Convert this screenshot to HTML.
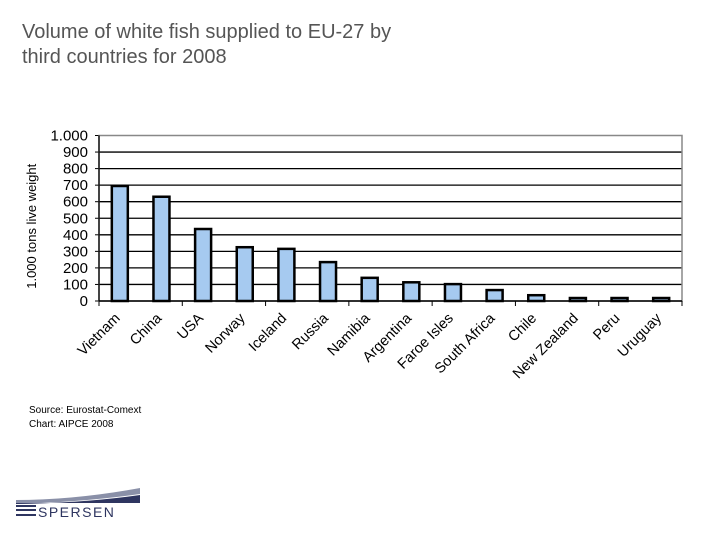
<!DOCTYPE html>
<html><head><meta charset="utf-8"><style>
body{margin:0;background:#fff;width:720px;height:540px;overflow:hidden;font-family:"Liberation Sans",sans-serif}
#title{position:absolute;left:22px;top:20px;font-size:20px;color:#555;line-height:25px}
</style></head><body>
<div id="title">Volume of white fish supplied to EU-27 by<br>third countries for 2008</div>
<svg id="chart" width="720" height="540" style="position:absolute;left:0;top:0"></svg>
<script>
const categories=["Vietnam","China","USA","Norway","Iceland","Russia","Namibia","Argentina","Faroe Isles","South Africa","Chile","New Zealand","Peru","Uruguay"];
const values=[695,630,435,325,315,235,140,113,102,66,35,18,18,18];
const yTicks=[0,100,200,300,400,500,600,700,800,900,1000];
const yTickLabels=["0","100","200","300","400","500","600","700","800","900","1.000"];
const svg=document.getElementById('chart');const NS='http://www.w3.org/2000/svg';
const L=99,R=682,T=135.5,B=301,yMax=1000;
const band=(R-L)/categories.length;
const y=v=>B-(v/yMax)*(B-T);
const xc=i=>L+band*(i+0.5);
function mk(t,a,p){const e=document.createElementNS(NS,t);for(const k in a)e.setAttribute(k,a[k]);(p||svg).appendChild(e);return e;}
yTicks.forEach((v,i)=>{
 if(v>0&&v<yMax){const g=mk('line',{x1:L,x2:R,y1:y(v),y2:y(v),stroke:'#000','stroke-width':1.3});
 
 }
 const t=mk('text',{x:L-11,y:y(v)+5,'text-anchor':'end','font-size':15,fill:'#000'});t.textContent=yTickLabels[i];
 
 
 mk('line',{x1:L-4,x2:L,y1:y(v),y2:y(v),stroke:'#000'});
});
const frame=mk('rect',{x:L,y:T,width:R-L,height:B-T,fill:'none',stroke:'#888','stroke-width':1.5});


mk('line',{x1:L,x2:L,y1:T,y2:B,stroke:'#000','stroke-width':1.3});
mk('line',{x1:L,x2:R,y1:B,y2:B,stroke:'#000','stroke-width':1.5});
for(let i=0;i<=categories.length;i+=2){mk('line',{x1:L+band*i,x2:L+band*i,y1:B,y2:B+5,stroke:'#000'});}
categories.forEach((c,i)=>{
 const bw=16;
 const r=mk('rect',{x:xc(i)-bw/2,y:y(values[i]),width:bw,height:B-y(values[i]),fill:'#a6caf0',stroke:'#000','stroke-width':2.5});
 
 
 const t=mk('text',{x:0,y:0,'text-anchor':'end','font-size':14.5,fill:'#000',transform:`translate(${xc(i)+1},${B+18}) rotate(-45)`});
 t.textContent=c;
 
 
});
const yt=mk('text',{x:0,y:0,'text-anchor':'middle','font-size':13,fill:'#000',transform:`translate(36,${(T+B)/2+8}) rotate(-90)`});
yt.textContent='1.000 tons live weight';


</script>
<div style="position:absolute;left:29px;top:404px;font-size:10px;line-height:14px;color:#000">Source: Eurostat-Comext<br>Chart: AIPCE 2008</div>
<svg style="position:absolute;left:14px;top:486px" width="130" height="36">
<path d="M2 14 Q60 14 126 2 L126 8 Q70 16 2 18Z" fill="#8a90a8"/>
<path d="M2 18 Q70 17 126 9 L126 17 L2 17Z" fill="#2e3560"/>
<rect x="2" y="19" width="20" height="2" fill="#2e3560"/>
<rect x="2" y="23" width="20" height="2" fill="#2e3560"/>
<rect x="2" y="28" width="20" height="2" fill="#2e3560"/>
<text x="24" y="31" font-size="14" fill="#2e3560" letter-spacing="1.5">SPERSEN</text>
</svg>
</body></html>
